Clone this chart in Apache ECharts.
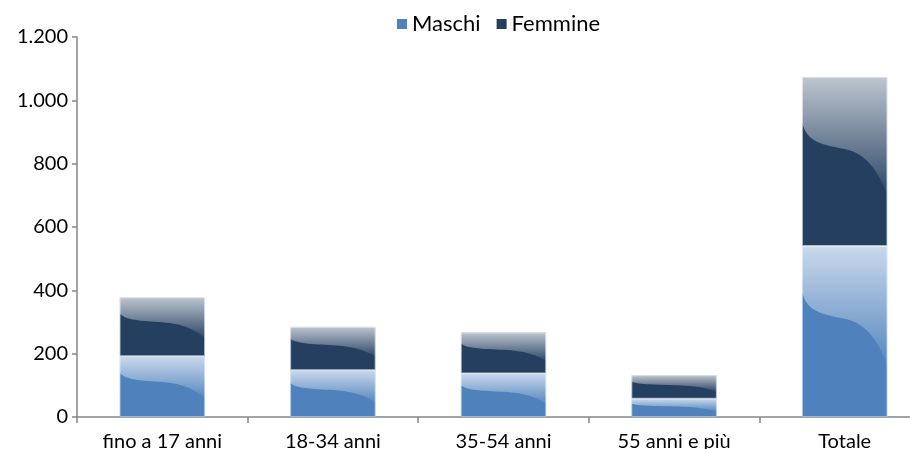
<!DOCTYPE html>
<html>
<head>
<meta charset="utf-8">
<script src="https://cdn.jsdelivr.net/npm/echarts@6/dist/echarts.min.js"></script>
<style>
  html, body { margin: 0; padding: 0; background: #ffffff; }
  #chart { width: 910px; height: 449px; }
</style>
</head>
<body>
<div id="chart"></div>
<script>
// Age groups and counts by sex
const categories = ['fino a 17 anni', '18-34 anni', '35-54 anni', '55 anni e più', 'Totale'];
const maschi = [192, 148, 138, 58, 540];
const femmine = [186, 137, 129, 74, 533];
const yTicks = [0, 200, 400, 600, 800, 1000, 1200];

const FONT = 'Lato, "Open Sans", sans-serif';
const COL_M = '#4F81BD';
const COL_F = '#243F60';

// Italian thousands separator
function fmt(v) {
  return String(v).replace(/\B(?=(\d{3})+(?!\d))/g, '.');
}

// Sample a cubic bezier
function bez(p0, p1, p2, p3, n) {
  const pts = [];
  for (let i = 0; i <= n; i++) {
    const t = i / n, u = 1 - t;
    pts.push([
      u*u*u*p0[0] + 3*u*u*t*p1[0] + 3*u*t*t*p2[0] + t*t*t*p3[0],
      u*u*u*p0[1] + 3*u*u*t*p1[1] + 3*u*t*t*p2[1] + t*t*t*p3[1]
    ]);
  }
  return pts;
}

// Glossy highlight drawn over each stacked segment (S-shaped lower edge)
function glossItem(params, api) {
  const idx = api.value(0);
  const lo = api.coord([idx, api.value(1)]);
  const hi = api.coord([idx, api.value(2)]);
  const w = api.size([1, 0])[0] * 0.5;
  const x0 = lo[0] - w / 2, x1 = lo[0] + w / 2;
  const yTop = hi[1], h = lo[1] - hi[1];
  const P = (fx, fy) => [x0 + fx * w, yTop + fy * h];
  // curve from right end back to left start
  const seg1 = bez(P(1, 0.70), P(0.9, 0.56), P(0.75, 0.45), P(0.5, 0.425), 16);
  const seg2 = bez(P(0.5, 0.425), P(0.25, 0.40), P(0.06, 0.39), P(0, 0.27), 16);
  const points = [[x0, yTop], [x1, yTop]].concat(seg1, seg2.slice(1));
  return {
    type: 'polygon',
    shape: { points: points },
    style: {
      fill: new echarts.graphic.LinearGradient(0, 0, 0, 1, [
        { offset: 0, color: 'rgba(255,255,255,0.70)' },
        { offset: 1, color: 'rgba(255,255,255,0.04)' }
      ])
    },
    silent: true
  };
}

const glossM = maschi.map((v, i) => [i, 0, v]);
const glossF = femmine.map((v, i) => [i, maschi[i], maschi[i] + v]);

const chart = echarts.init(document.getElementById('chart'), null, { renderer: 'canvas' });
chart.setOption({
  animation: false,
  backgroundColor: '#ffffff',
  textStyle: { fontFamily: FONT },
  legend: {
    data: ['Maschi', 'Femmine'],
    top: 8,
    left: 392,
    icon: 'rect',
    itemWidth: 10,
    itemHeight: 10,
    itemGap: 16,
    itemStyle: { borderWidth: 0 },
    textStyle: { fontSize: 22, color: '#000', fontFamily: FONT }
  },
  grid: { left: 77, top: 37, width: 853, height: 380, containLabel: false, outerBoundsMode: 'none' },
  xAxis: {
    type: 'category',
    data: categories,
    boundaryGap: true,
    axisLine: { lineStyle: { color: '#868686', width: 1.5 } },
    axisTick: { show: true, length: 6, lineStyle: { color: '#868686', width: 1.5 } },
    axisLabel: { color: '#000', fontSize: 20, fontFamily: FONT, margin: 15 }
  },
  yAxis: {
    type: 'value',
    min: yTicks[0],
    max: yTicks[yTicks.length - 1],
    interval: yTicks[1] - yTicks[0],
    splitLine: { show: false },
    axisLine: { show: true, lineStyle: { color: '#868686', width: 1.5 } },
    axisTick: { show: true, length: 5, lineStyle: { color: '#868686', width: 1.5 } },
    axisLabel: { color: '#000', fontSize: 20, fontFamily: FONT, margin: 9, formatter: fmt }
  },
  series: [
    {
      name: 'Maschi', type: 'bar', stack: 'tot', data: maschi,
      barWidth: '50%',
      itemStyle: { color: COL_M, borderColor: '#a9c4e8', borderWidth: 0.8 }
    },
    {
      name: 'Femmine', type: 'bar', stack: 'tot', data: femmine,
      barWidth: '50%',
      itemStyle: { color: COL_F, borderColor: '#b7c0cb', borderWidth: 0.8 }
    },
    {
      name: 'gloss-m', type: 'custom', renderItem: glossItem, data: glossM,
      encode: { x: 0, y: [1, 2] }, z: 5, silent: true
    },
    {
      name: 'gloss-f', type: 'custom', renderItem: glossItem, data: glossF,
      encode: { x: 0, y: [1, 2] }, z: 5, silent: true
    }
  ]
});
</script>
</body>
</html>
